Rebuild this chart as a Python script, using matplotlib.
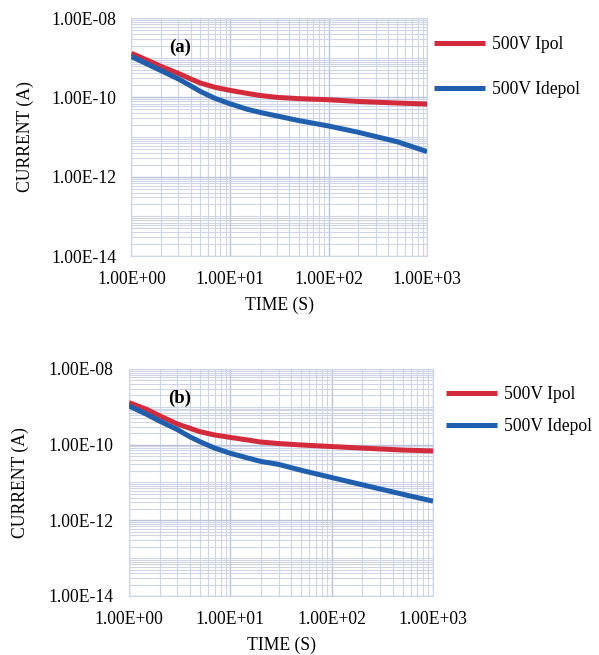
import matplotlib
matplotlib.use("Agg")
import matplotlib.pyplot as plt
from matplotlib.ticker import LogLocator, FuncFormatter, NullFormatter

plt.rcParams['font.family'] = ['Liberation Serif', 'DejaVu Serif']

# Time points (s) and currents (A) for both measurements
time_s = [1, 1.5, 2, 3, 4, 5, 7, 10, 15, 20, 30, 50, 100, 200, 500, 1000]

ipol_a = [1.29e-9, 8.3e-10, 6.0e-10, 4.0e-10, 2.9e-10, 2.3e-10, 1.8e-10, 1.5e-10,
          1.26e-10, 1.12e-10, 1.0e-10, 9.3e-11, 8.7e-11, 7.9e-11, 7.2e-11, 6.8e-11]
idepol_a = [1.07e-9, 6.6e-10, 4.7e-10, 2.9e-10, 1.95e-10, 1.41e-10, 9.5e-11, 6.9e-11,
            5.0e-11, 4.2e-11, 3.4e-11, 2.6e-11, 1.9e-11, 1.32e-11, 7.6e-12, 4.3e-12]

ipol_b = [1.29e-9, 8.5e-10, 5.8e-10, 3.5e-10, 2.7e-10, 2.2e-10, 1.8e-10, 1.55e-10,
          1.32e-10, 1.17e-10, 1.07e-10, 9.8e-11, 8.9e-11, 8.1e-11, 7.2e-11, 6.8e-11]
idepol_b = [1.05e-9, 6.3e-10, 4.2e-10, 2.5e-10, 1.6e-10, 1.2e-10, 8.1e-11, 5.9e-11,
            4.4e-11, 3.6e-11, 3.0e-11, 2.1e-11, 1.35e-11, 8.7e-12, 4.9e-12, 3.2e-12]

series_labels = ['500V Ipol', '500V Idepol']
panel_tags = ['(a)', '(b)']

RED = '#d42b3c'
BLUE = '#1f5fae'
GRID_MAJOR = '#b9c3da'
GRID_MINOR = '#cdd5e6'
FS = 12.7

fig = plt.figure(figsize=(5.99, 6.55), dpi=100)

panels = [
    dict(rect=[0.2195, 0.609, 0.4935, 0.3635], ipol=ipol_a, idepol=idepol_a,
         tag_xy=(0.164, 0.878), leg_anchor=(0.724, 0.945), leg_space=1.6),
    dict(rect=[0.2154, 0.0901, 0.5075, 0.3466], ipol=ipol_b, idepol=idepol_b,
         tag_xy=(0.168, 0.872), leg_anchor=(0.744, 0.410), leg_space=0.85),
]

sci = FuncFormatter(lambda v, pos: f"{v:.2E}")

for i, p in enumerate(panels):
    ax = fig.add_axes(p['rect'])
    ax.set_xscale('log')
    ax.set_yscale('log')
    ax.set_xlim(1, 1000)
    ax.set_ylim(1e-14, 1e-8)

    ax.plot(time_s, p['ipol'], color=RED, lw=3.6, solid_capstyle='butt',
            solid_joinstyle='round', label=series_labels[0], zorder=3)
    ax.plot(time_s, p['idepol'], color=BLUE, lw=3.6, solid_capstyle='butt',
            solid_joinstyle='round', label=series_labels[1], zorder=3)

    ax.xaxis.set_major_locator(LogLocator(base=10, numticks=10))
    ax.xaxis.set_minor_locator(LogLocator(base=10, subs=range(2, 10), numticks=20))
    ax.yaxis.set_major_locator(LogLocator(base=100, numticks=10))
    ax.yaxis.set_minor_locator(LogLocator(base=10, subs=range(1, 10), numticks=30))
    ax.xaxis.set_major_formatter(sci)
    ax.yaxis.set_major_formatter(sci)
    ax.xaxis.set_minor_formatter(NullFormatter())
    ax.yaxis.set_minor_formatter(NullFormatter())

    ax.grid(True, which='major', color=GRID_MAJOR, lw=1.0)
    ax.grid(True, which='minor', color=GRID_MINOR, lw=0.8)
    ax.set_axisbelow(True)
    ax.tick_params(which='both', length=0, labelsize=FS, pad=11)
    for s in ax.spines.values():
        s.set_color(GRID_MINOR)
        s.set_linewidth(0.8)

    ax.set_xlabel('TIME (S)', fontsize=FS, labelpad=6)
    ax.set_ylabel('CURRENT (A)', fontsize=FS)
    ax.yaxis.set_label_coords(-0.33, 0.5)

    ax.text(p['tag_xy'][0], p['tag_xy'][1], panel_tags[i], transform=ax.transAxes,
            fontsize=13.5, fontweight='bold', ha='center', va='center')

    fig.legend(handles=ax.get_lines(), loc='upper left', bbox_to_anchor=p['leg_anchor'],
               bbox_transform=fig.transFigure, frameon=False, fontsize=FS,
               handlelength=2.9, handletextpad=0.4, labelspacing=p['leg_space'],
               borderpad=0, borderaxespad=0)

fig.savefig('out.png', dpi=100)
